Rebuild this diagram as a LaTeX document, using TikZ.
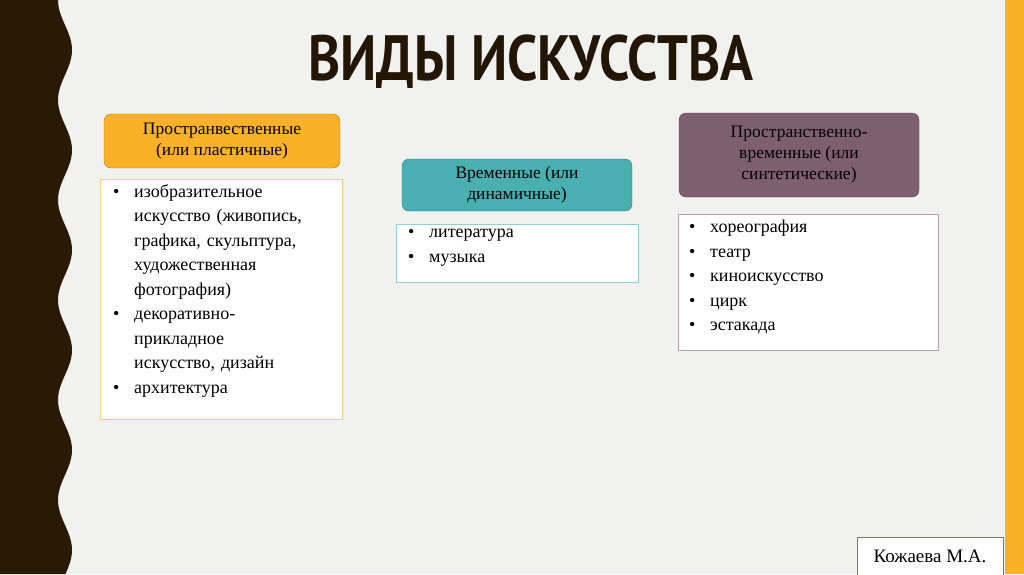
\documentclass[tikz,border=0pt]{standalone}
\usepackage{fontspec}
\setmainfont{Liberation Serif}
\newfontfamily\titlefont{PT Sans}
\newcommand{\bl}[1]{\hangindent=21pt\hangafter=1\noindent\makebox[21pt][l]{\textbullet}#1\par}
\begin{document}
\begin{tikzpicture}[x=1pt,y=-1pt,
  hdr/.style={draw=#1!70!black,rounded corners=7pt,align=center,font=\fontsize{17.5}{21}\selectfont,inner sep=0pt},
  lst/.style={draw=#1,fill=white,inner sep=0pt},
  itm/.style={anchor=north west,text width=230pt,font=\fontsize{18}{24.5}\selectfont,inner sep=0pt}]
\definecolor{bg}{HTML}{F1F1EF}
\definecolor{dark}{HTML}{2A1A05}
\definecolor{orng}{HTML}{F9B128}
\definecolor{teal}{HTML}{49AFB0}
\definecolor{plum}{HTML}{7E5F72}
\useasboundingbox (0,0) rectangle (1024,574);
\fill[bg] (0,0) rectangle (1024,574);
\fill[orng] (1005,0) rectangle (1024,574);
\fill[dark] (0,0) -- plot[domain=0:574,samples=120,smooth,variable=\t] ({65-7*cos(\t*3.6)},\t) -- (0,574) -- cycle;
\node[font=\titlefont\bfseries\fontsize{64}{64}\selectfont,text=dark!85!black,xscale=0.85] (title) at (531,62) {ВИДЫ ИСКУССТВА};
% left
\node[hdr=orng,fill=orng,minimum width=236,minimum height=54] (h1) at (222,141) {Пространвественные\\(или пластичные)};
\node[lst=orng!60,minimum width=242,minimum height=240,anchor=north west] (l1) at (100,179) {};
\node[itm] (t1) at (113,184) {\bl{изобразительное\newline искусство (живопись,\newline графика, скульптура,\newline художественная\newline фотография)}%
\bl{декоративно-\newline прикладное\newline искусство, дизайн}%
\bl{архитектура}};
% middle
\node[hdr=teal,fill=teal,minimum width=230,minimum height=52] (h2) at (517,185) {Временные (или\\динамичные)};
\node[lst=teal!60,minimum width=242,minimum height=58,anchor=north west] (l2) at (396,224) {};
\node[itm] (t2) at (408,229) {\bl{литература}\bl{музыка}};
% right
\node[hdr=plum,fill=plum,minimum width=240,minimum height=84] (h3) at (799,155) {Пространственно-\\временные (или\\синтетические)};
\node[lst=plum!60,minimum width=260,minimum height=136,anchor=north west] (l3) at (678,214) {};
\node[itm] (t3) at (689,220) {\bl{хореография}\bl{театр}\bl{киноискусство}\bl{цирк}\bl{эстакада}};
% author
\node[draw=dark!60,fill=white,minimum width=146,minimum height=38,font=\fontsize{19}{21}\selectfont] (auth) at (930,556) {Кожаева М.А.};
\end{tikzpicture}
\end{document}
